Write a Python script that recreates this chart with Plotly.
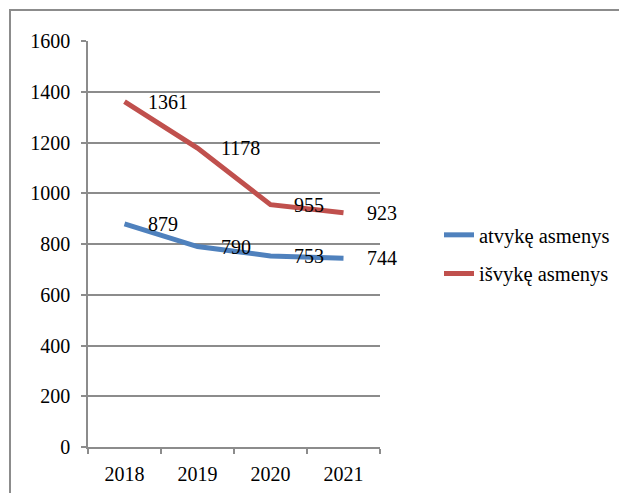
import plotly.graph_objects as go

years = ["2018", "2019", "2020", "2021"]
arrived = [879, 790, 753, 744]
departed = [1361, 1178, 955, 923]
y_ticks = [0, 200, 400, 600, 800, 1000, 1200, 1400, 1600]

OFF = 8  # page body margin
W, H = 627 - OFF, 493 - OFF
L, R, T, B = 88 - OFF, 380 - OFF, 41 - OFF, 447 - OFF
FONT = "Times New Roman, Liberation Serif, DejaVu Serif, serif"
GRID = "#8c8c8c"

fig = go.Figure()
fig.add_trace(go.Scatter(x=years, y=arrived, mode="lines", name="atvykę asmenys",
                         line=dict(color="#4F81BD", width=5), legendgroup="a"))
fig.add_trace(go.Scatter(x=years, y=departed, mode="lines", name="išvykę asmenys",
                         line=dict(color="#C0504D", width=5), legendgroup="b"))

for series in (arrived, departed):
    for i, yv in enumerate(series):
        fig.add_annotation(x=i, y=yv, text=str(yv), showarrow=False,
                           xanchor="left", yanchor="middle", xshift=21,
                           font=dict(size=20, color="black", family=FONT))

pw, ph = R - L, B - T
# chart border
fig.add_shape(type="rect", xref="paper", yref="paper",
              x0=(10 - OFF - L) / pw, x1=(640 - L) / pw,
              y0=(B - 510) / ph, y1=(B - (10 - OFF)) / ph,
              line=dict(color=GRID, width=2), fillcolor="rgba(0,0,0,0)", layer="below")
# cut-off title glyph (only its descender is visible)
fig.add_annotation(xref="paper", yref="paper", x=(29 - OFF - L) / pw, y=1 + (T - 2) / ph,
                   text="<b>j</b>", showarrow=False, xanchor="center", yanchor="bottom",
                   font=dict(size=20, color="black", family=FONT))

fig.update_layout(
    width=W, height=H,
    margin=dict(l=L, r=W - R, t=T, b=H - B, pad=0, autoexpand=False),
    paper_bgcolor="white", plot_bgcolor="white",
    font=dict(family=FONT, size=20, color="black"),
    showlegend=True,
    legend=dict(x=(439 - OFF - L) / pw, y=(B - (215 - OFF)) / ph, xanchor="left", yanchor="top",
                font=dict(size=20.5, family=FONT), tracegroupgap=9,
                bgcolor="rgba(0,0,0,0)"),
)
fig.update_xaxes(type="category", showgrid=False, showline=True, linecolor=GRID, linewidth=1.5,
                 ticks="outside", tickson="boundaries", ticklen=5, tickcolor=GRID, tickwidth=1.5,
                 ticklabelstandoff=8,
                 tickfont=dict(size=20, family=FONT), range=[-0.5, 3.5])
fig.update_yaxes(range=[0, 1600], tickvals=y_ticks, showgrid=True, gridcolor=GRID, gridwidth=1.5,
                 showline=True, linecolor=GRID, linewidth=1.5, zeroline=False,
                 ticks="outside", ticklen=5, tickcolor=GRID, tickwidth=1.5,
                 ticklabelstandoff=7,
                 tickfont=dict(size=20, family=FONT))

fig.write_html("out.html")
